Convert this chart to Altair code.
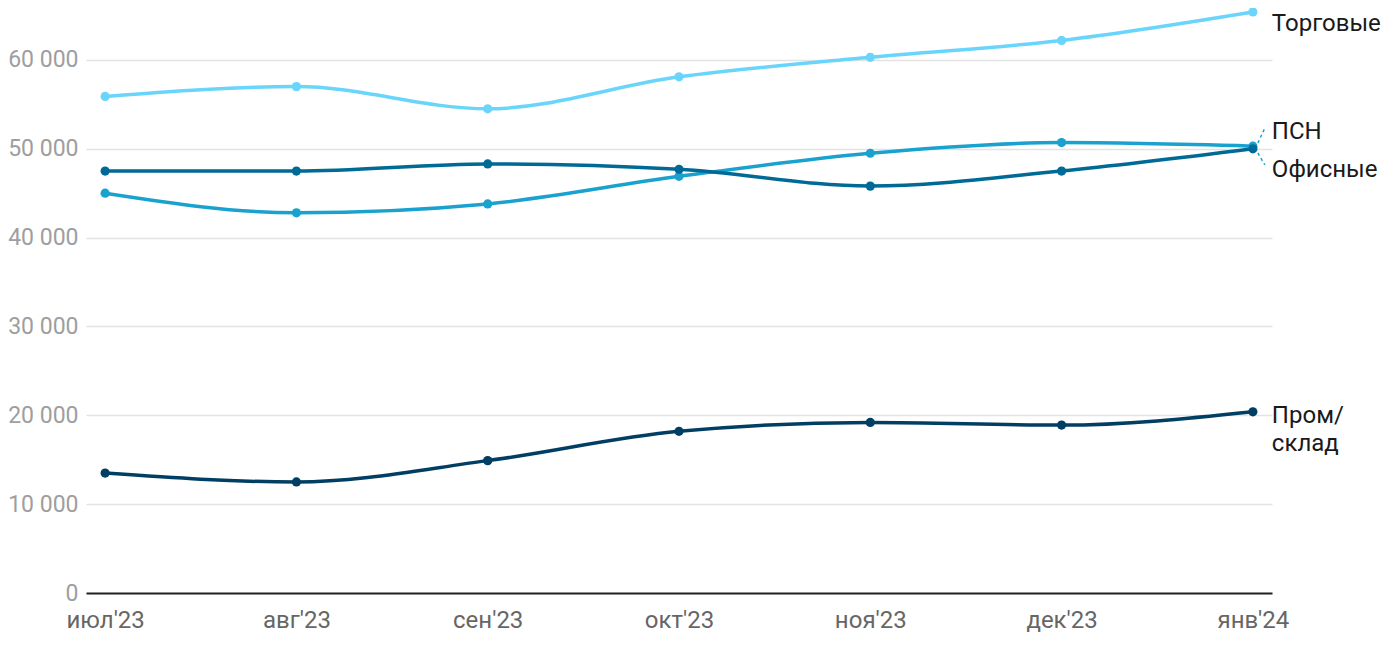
import altair as alt
import pandas as pd

months = ["июл'23", "авг'23", "сен'23", "окт'23", "ноя'23", "дек'23", "янв'24"]
series_names = ["Торговые", "ПСН", "Офисные", "Пром/склад"]
torg = [55900, 57000, 54500, 58100, 60300, 62200, 65400]
psn = [45000, 42800, 43800, 46900, 49500, 50700, 50300]
ofis = [47500, 47500, 48300, 47700, 45800, 47500, 50000]
prom = [13500, 12500, 14900, 18200, 19200, 18900, 20400]
colors = ["#69d5fb", "#1aa2cf", "#006a97", "#003e63"]

label_texts = ["Торговые", "ПСН", "Офисные", "Пром/\nсклад"]
label_vals = [63300, 51100, 46850, 19150]

conn_y = [50660, 49530]
conn_y2 = [52350, 48180]

rows = []
for name, vals in zip(series_names, [torg, psn, ofis, prom]):
    for i, (m, v) in enumerate(zip(months, vals)):
        rows.append({"month": m, "value": v, "series": name, "idx": i})
df = pd.DataFrame(rows)

lab_df = pd.DataFrame({"month": [months[-1]] * 4, "value": label_vals, "text": label_texts})
conn_df = pd.DataFrame({"month": [months[-1]] * 2, "y": conn_y, "y2": conn_y2})

x_enc = alt.X("month:N", sort=months,
              scale=alt.Scale(type="point", padding=0.1),
              axis=alt.Axis(title=None, labelAngle=0, ticks=False, domain=True,
                            domainColor="#222222", domainWidth=2, labelColor="#666666",
                            labelFontSize=24, labelPadding=15, grid=False,
                            labelFont="Roboto"))
y_scale = alt.Scale(domain=[0, 65850], nice=False)
y_axis = alt.Axis(title=None, values=[0, 10000, 20000, 30000, 40000, 50000, 60000],
                  labelExpr="replace(format(datum.value, ','), ',', ' ')",
                  domain=False, ticks=False, labelColor="#9e9e9e", labelFontSize=23,
                  labelPadding=8, gridColor="#e3e3e3", gridWidth=1.5,
                  labelFont="Roboto")

color_enc = alt.Color("series:N", scale=alt.Scale(domain=series_names, range=colors), legend=None)

base = alt.Chart(df)
lines = base.mark_line(interpolate="monotone", strokeWidth=3.5).encode(
    x=x_enc,
    y=alt.Y("value:Q", scale=y_scale, axis=y_axis),
    color=color_enc,
    detail="series:N",
)
points = base.mark_circle(size=85, opacity=1).encode(
    x=alt.X("month:N", sort=months),
    y=alt.Y("value:Q"),
    color=color_enc,
    order=alt.Order("idx:Q"),
)

conns = alt.Chart(conn_df).mark_rule(strokeDash=[3, 3], strokeWidth=1.5, color="#1aa2cf",
                                      xOffset=5, x2Offset=12).encode(
    x=alt.X("month:N", sort=months),
    x2="month:N",
    y=alt.Y("y:Q"),
    y2="y2:Q",
)

labels = alt.Chart(lab_df).mark_text(align="left", baseline="alphabetic", dx=19,
                                     fontSize=24, font="Roboto", color="#1a1a1a",
                                     lineBreak="\n", lineHeight=28).encode(
    x=alt.X("month:N", sort=months),
    y=alt.Y("value:Q"),
    text="text:N",
)

chart = alt.layer(lines, conns, points, labels).properties(
    width=1186, height=585,
    autosize=alt.AutoSizeParams(type="none"),
    padding={"left": 78, "top": 0, "right": 118, "bottom": 45},
    background="white",
).configure_view(stroke=None)

chart.save("out.html", embed_options={"renderer": "svg", "actions": False})
